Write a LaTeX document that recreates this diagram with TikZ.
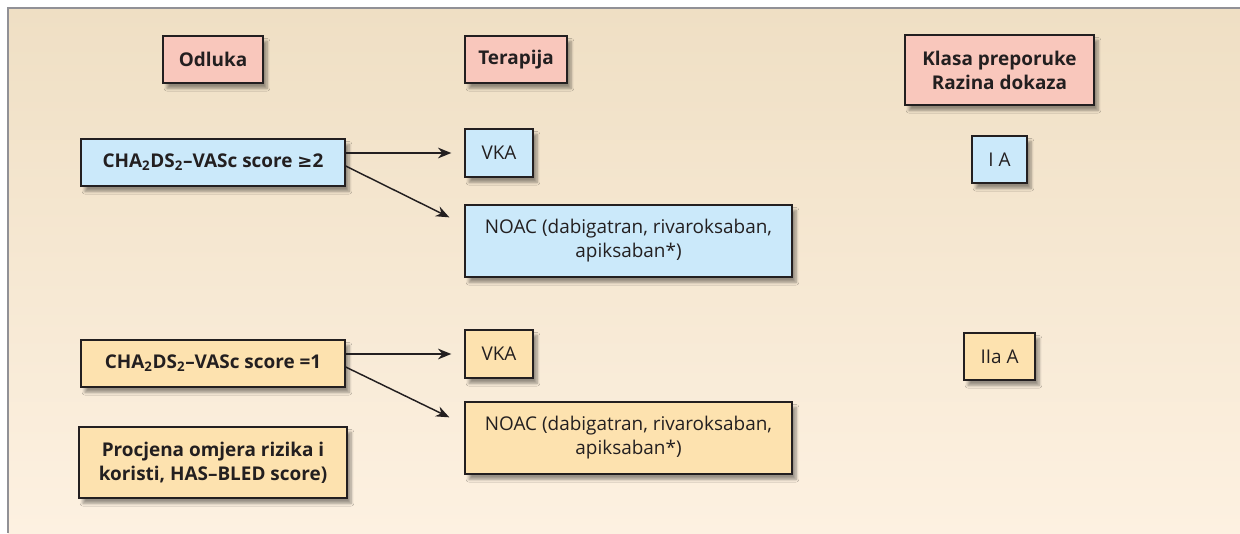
\documentclass[tikz,border=0pt]{standalone}
\usepackage{fontspec}
\setmainfont{Open Sans}
\newfontfamily\symfont{DejaVu Sans}
\usepackage{tikz}
\usetikzlibrary{arrows.meta}
\usetikzlibrary{calc}
\usetikzlibrary{shadows.blur}

\definecolor{bgtop}{RGB}{239,223,196}
\definecolor{bgbot}{RGB}{253,241,225}
\definecolor{framegray}{RGB}{145,145,150}
\definecolor{inkdark}{RGB}{35,31,32}
\definecolor{headpink}{RGB}{249,199,188}
\definecolor{boxblue}{RGB}{203,233,250}
\definecolor{boxsand}{RGB}{253,226,175}

\tikzset{
  box/.style={draw=inkdark, line width=1pt, text=inkdark, align=center,
    inner sep=0.75pt, font=\fontsize{14.2}{18}\selectfont,
    blur shadow={shadow xshift=3pt, shadow yshift=-4pt, shadow blur steps=6, shadow opacity=40}},
  headbox/.style={box, fill=headpink, font=\fontsize{14.2}{18}\selectfont\bfseries},
  arr/.style={draw=inkdark, line width=1.1pt, -{Stealth[length=10pt, width=8pt]}}
}

\begin{document}
\begin{tikzpicture}[x=0.75pt,y=0.75pt,yscale=-1,xscale=1]
\useasboundingbox (0,0) rectangle (1240,533);

%Background and frame
\shade [top color=bgtop, bottom color=bgbot] (8,8) rectangle (1240,533);
\draw [framegray, line width=2pt] (8,533) -- (8,8) -- (1240,8);

% Header Nodes
\node [headbox, minimum width=75pt, minimum height=35.25pt] (odluka) at (213,59.5) {Odluka};
\node [headbox, minimum width=76.5pt, minimum height=35.25pt] (terapija) at (516,59.5) {Terapija};
\node [headbox, minimum width=141.75pt, minimum height=52.5pt] (klasa) at (999.5,70) {Klasa preporuke\\Razina dokaza};

% Upper row
\node [box, fill=boxblue, font=\fontsize{14.2}{18}\selectfont\bfseries, minimum width=198pt, minimum height=35.25pt] (chavisok) at (213,162.5) {CHA\textsubscript{2}DS\textsubscript{2}--VASc score {\symfont\fontsize{13.5}{18}\selectfont ≥}2};
\node [box, fill=boxblue, minimum width=51pt, minimum height=36pt] (vkavisok) at (499,153) {VKA};
\node [box, fill=boxblue, minimum width=245.25pt, minimum height=54pt] (noacvisok) at (628.5,241) {NOAC (dabigatran, rivaroksaban,\\apiksaban*)};
\node [box, fill=boxblue, minimum width=41.25pt, minimum height=35.25pt] (klasaI) at (999.5,159.5) {I A};

% Lower row
\node [box, fill=boxsand, font=\fontsize{14.2}{18}\selectfont\bfseries, minimum width=198pt, minimum height=35.25pt] (chanizak) at (213,363.5) {CHA\textsubscript{2}DS\textsubscript{2}--VASc score =1};
\node [box, fill=boxsand, minimum width=51pt, minimum height=36pt] (vkanizak) at (499,354) {VKA};
\node [box, fill=boxsand, minimum width=245.25pt, minimum height=54pt] (noacnizak) at (628.5,438) {NOAC (dabigatran, rivaroksaban,\\apiksaban*)};
\node [box, fill=boxsand, minimum width=53.25pt, minimum height=35.25pt] (klasaIIa) at (999.5,356.5) {IIa A};
\node [box, fill=boxsand, font=\fontsize{14.2}{18}\selectfont\bfseries, minimum width=201pt, minimum height=53.25pt] (procjena) at (213,462.5) {Procjena omjera rizika i\\koristi, HAS--BLED score)};

% Connectors
\draw [inkdark, line width=2.2pt] (chavisok.east |- vkavisok) -- ++(18,0);
\draw [arr, shorten >=9.75pt] (chavisok.east |- vkavisok) -- (vkavisok.west);
\draw [arr] ($(chavisok.east)+(0,3.5)$) -- ($(noacvisok.north west)+(-15,13)$);

\draw [inkdark, line width=2.2pt] (chanizak.east |- vkanizak) -- ++(18,0);
\draw [arr, shorten >=9.75pt] (chanizak.east |- vkanizak) -- (vkanizak.west);
\draw [arr] ($(chanizak.east)+(0,3.5)$) -- ($(noacnizak.north west)+(-15,16)$);

\end{tikzpicture}
\end{document}
